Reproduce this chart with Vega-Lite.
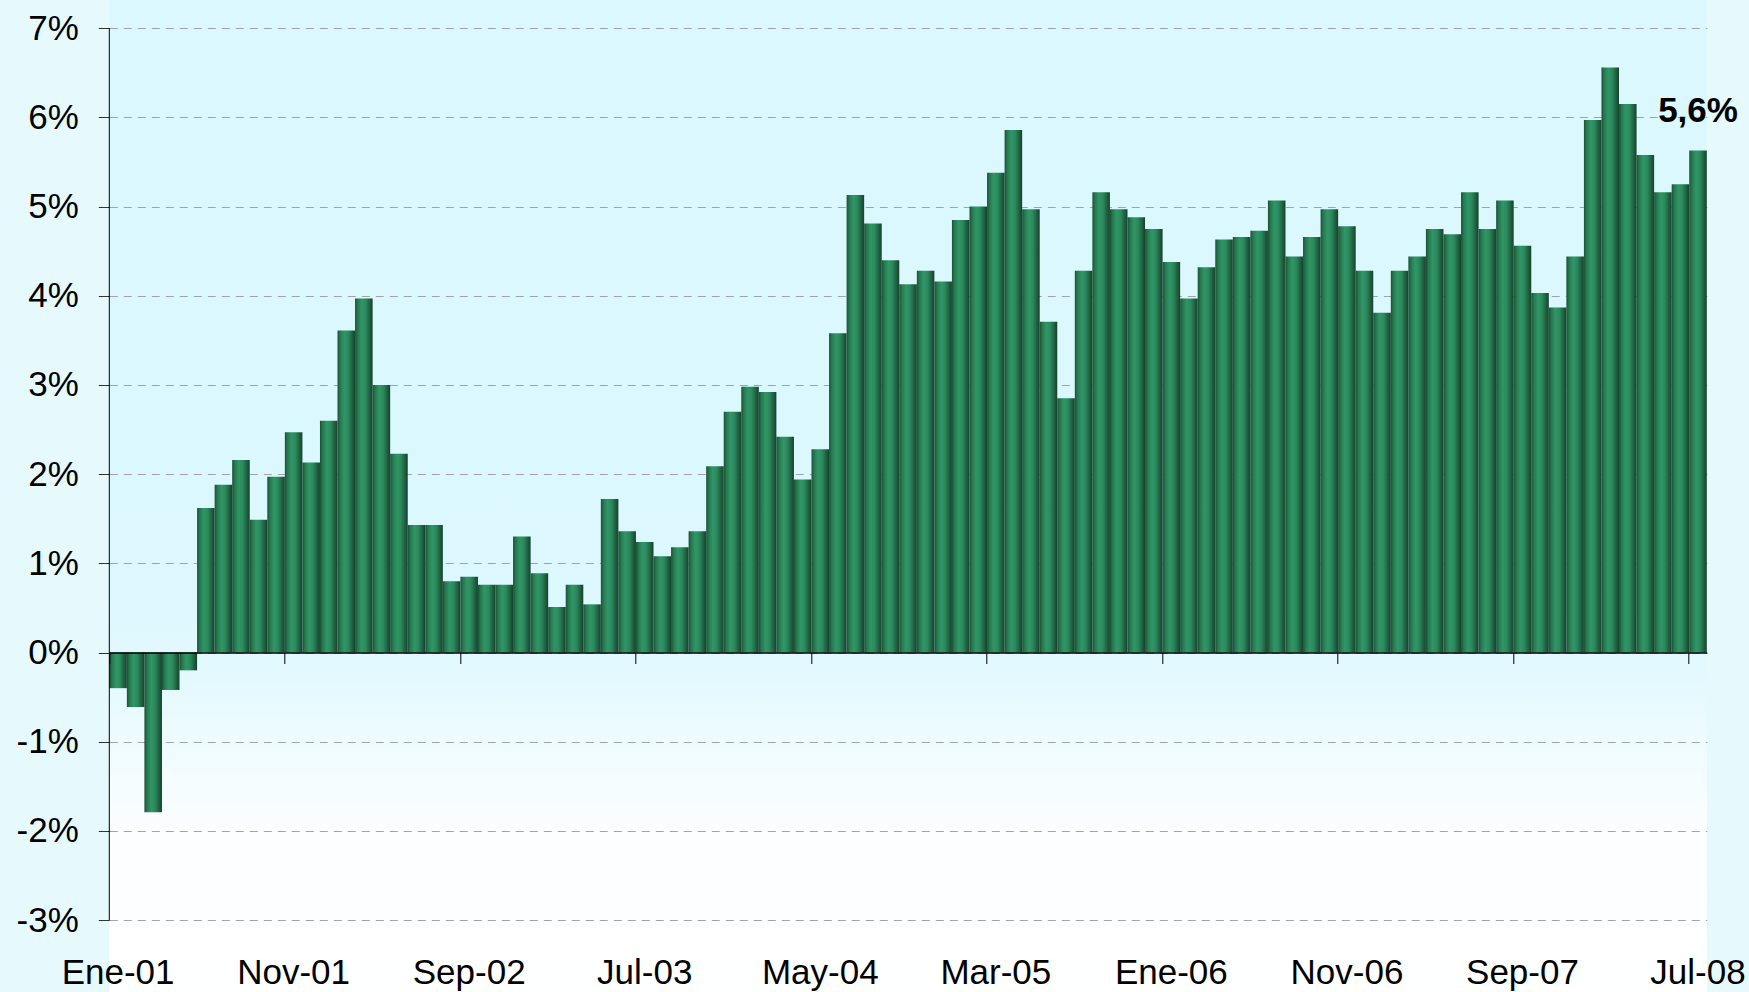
{
  "$schema": "https://vega.github.io/schema/vega-lite/v6.json",
  "width": 1597.5,
  "height": 992,
  "autosize": {"type": "none"},
  "padding": {"left": 109.3, "top": 0, "right": 42.2, "bottom": 0},
  "background": "#e6fafe",
  "config": {
    "font": "Liberation Sans",
    "view": {
      "stroke": null,
      "fill": {
        "gradient": "linear", "x1": 0, "x2": 0, "y1": 0, "y2": 1,
        "stops": [
          {"offset": 0, "color": "#dbf8fe"},
          {"offset": 0.6, "color": "#dcf8fe"},
          {"offset": 0.68, "color": "#e3f9fe"},
          {"offset": 0.76, "color": "#f0fcff"},
          {"offset": 0.84, "color": "#fcfeff"},
          {"offset": 1, "color": "#ffffff"}
        ]
      }
    }
  },
  "data": {
    "values": [
      {"mes": "Ene-01", "v": -0.40}, {"mes": "Feb-01", "v": -0.61}, {"mes": "Mar-01", "v": -1.79}, {"mes": "Abr-01", "v": -0.42},
      {"mes": "May-01", "v": -0.20}, {"mes": "Jun-01", "v": 1.62}, {"mes": "Jul-01", "v": 1.88}, {"mes": "Ago-01", "v": 2.16},
      {"mes": "Sep-01", "v": 1.49}, {"mes": "Oct-01", "v": 1.97}, {"mes": "Nov-01", "v": 2.47}, {"mes": "Dic-01", "v": 2.13},
      {"mes": "Ene-02", "v": 2.60}, {"mes": "Feb-02", "v": 3.61}, {"mes": "Mar-02", "v": 3.97}, {"mes": "Abr-02", "v": 3.00},
      {"mes": "May-02", "v": 2.23}, {"mes": "Jun-02", "v": 1.43}, {"mes": "Jul-02", "v": 1.43}, {"mes": "Ago-02", "v": 0.80},
      {"mes": "Sep-02", "v": 0.85}, {"mes": "Oct-02", "v": 0.76}, {"mes": "Nov-02", "v": 0.76}, {"mes": "Dic-02", "v": 1.30},
      {"mes": "Ene-03", "v": 0.89}, {"mes": "Feb-03", "v": 0.51}, {"mes": "Mar-03", "v": 0.76}, {"mes": "Abr-03", "v": 0.54},
      {"mes": "May-03", "v": 1.72}, {"mes": "Jun-03", "v": 1.36}, {"mes": "Jul-03", "v": 1.24}, {"mes": "Ago-03", "v": 1.08},
      {"mes": "Sep-03", "v": 1.18}, {"mes": "Oct-03", "v": 1.36}, {"mes": "Nov-03", "v": 2.09}, {"mes": "Dic-03", "v": 2.70},
      {"mes": "Ene-04", "v": 2.98}, {"mes": "Feb-04", "v": 2.92}, {"mes": "Mar-04", "v": 2.42}, {"mes": "Abr-04", "v": 1.94},
      {"mes": "May-04", "v": 2.28}, {"mes": "Jun-04", "v": 3.58}, {"mes": "Jul-04", "v": 5.13}, {"mes": "Ago-04", "v": 4.81},
      {"mes": "Sep-04", "v": 4.40}, {"mes": "Oct-04", "v": 4.13}, {"mes": "Nov-04", "v": 4.28}, {"mes": "Dic-04", "v": 4.16},
      {"mes": "Ene-05", "v": 4.85}, {"mes": "Feb-05", "v": 5.00}, {"mes": "Mar-05", "v": 5.38}, {"mes": "Abr-05", "v": 5.86},
      {"mes": "May-05", "v": 4.97}, {"mes": "Jun-05", "v": 3.71}, {"mes": "Jul-05", "v": 2.85}, {"mes": "Ago-05", "v": 4.28},
      {"mes": "Sep-05", "v": 5.16}, {"mes": "Oct-05", "v": 4.97}, {"mes": "Nov-05", "v": 4.88}, {"mes": "Dic-05", "v": 4.75},
      {"mes": "Ene-06", "v": 4.38}, {"mes": "Feb-06", "v": 3.97}, {"mes": "Mar-06", "v": 4.32}, {"mes": "Abr-06", "v": 4.63},
      {"mes": "May-06", "v": 4.66}, {"mes": "Jun-06", "v": 4.73}, {"mes": "Jul-06", "v": 5.07}, {"mes": "Ago-06", "v": 4.44},
      {"mes": "Sep-06", "v": 4.66}, {"mes": "Oct-06", "v": 4.97}, {"mes": "Nov-06", "v": 4.78}, {"mes": "Dic-06", "v": 4.28},
      {"mes": "Ene-07", "v": 3.81}, {"mes": "Feb-07", "v": 4.28}, {"mes": "Mar-07", "v": 4.44}, {"mes": "Abr-07", "v": 4.75},
      {"mes": "May-07", "v": 4.69}, {"mes": "Jun-07", "v": 5.16}, {"mes": "Jul-07", "v": 4.75}, {"mes": "Ago-07", "v": 5.07},
      {"mes": "Sep-07", "v": 4.56}, {"mes": "Oct-07", "v": 4.03}, {"mes": "Nov-07", "v": 3.87}, {"mes": "Dic-07", "v": 4.44},
      {"mes": "Ene-08", "v": 5.97}, {"mes": "Feb-08", "v": 6.56}, {"mes": "Mar-08", "v": 6.15}, {"mes": "Abr-08", "v": 5.58},
      {"mes": "May-08", "v": 5.16}, {"mes": "Jun-08", "v": 5.25}, {"mes": "Jul-08", "v": 5.63, "etiqueta": "5,6%"}
    ]
  },
  "layer": [
    {
      "mark": {
        "type": "bar",
        "color": {
          "gradient": "linear", "x1": 0, "x2": 1, "y1": 0, "y2": 0,
          "stops": [
            {"offset": 0, "color": "#1b5035"},
            {"offset": 0.15, "color": "#27784f"},
            {"offset": 0.38, "color": "#2f9667"},
            {"offset": 0.6, "color": "#2c8a5d"},
            {"offset": 0.85, "color": "#1f5d3f"},
            {"offset": 1, "color": "#17412c"}
          ]
        }
      },
      "encoding": {
        "x": {
          "field": "mes", "type": "ordinal", "sort": null,
          "scale": {"paddingInner": 0, "paddingOuter": 0},
          "axis": {
            "title": null,
            "values": ["Ene-01", "Nov-01", "Sep-02", "Jul-03", "May-04", "Mar-05", "Ene-06", "Nov-06", "Sep-07", "Jul-08"],
            "bandPosition": 0,
            "offset": -339.5,
            "zindex": 1,
            "domainColor": "#000000",
            "domainWidth": 1.5,
            "tickColor": "#000000",
            "tickSize": 11,
            "tickWidth": 1,
            "labelAngle": 0,
            "labelAlign": "center",
            "labelBaseline": "top",
            "labelDx": 8.78,
            "labelPadding": 292,
            "labelFontSize": 35,
            "labelColor": "#000000",
            "labelFont": "Liberation Sans"
          }
        },
        "y": {
          "field": "v", "type": "quantitative",
          "scale": {"domain": [-3.807, 7.317], "nice": false, "zero": false},
          "axis": {
            "title": null,
            "values": [-3, -2, -1, 0, 1, 2, 3, 4, 5, 6, 7],
            "labelExpr": "datum.value + '%'",
            "domain": false,
            "tickColor": "#333333",
            "tickSize": 11,
            "labelPadding": 20,
            "labelFontSize": 35,
            "labelColor": "#000000",
            "labelFont": "Liberation Sans",
            "grid": true,
            "gridColor": "#a3a3a3",
            "gridDash": [8, 6],
            "gridWidth": 1
          }
        }
      }
    },
    {
      "transform": [{"filter": "datum.mes == 'Ene-01'"}],
      "mark": {"type": "rule", "color": "#000000", "strokeWidth": 1},
      "encoding": {
        "x": {"field": "mes", "type": "ordinal", "sort": null, "bandPosition": 0},
        "y": {"datum": 7},
        "y2": {"datum": -3}
      }
    },
    {
      "transform": [{"filter": "datum.etiqueta != null"}],
      "mark": {"type": "text", "font": "Liberation Sans", "fontSize": 35, "fontWeight": "bold", "color": "#000000", "baseline": "alphabetic", "align": "center", "dy": -28},
      "encoding": {
        "x": {"field": "mes", "type": "ordinal", "sort": null},
        "y": {"field": "v", "type": "quantitative"},
        "text": {"field": "etiqueta"}
      }
    }
  ]
}
